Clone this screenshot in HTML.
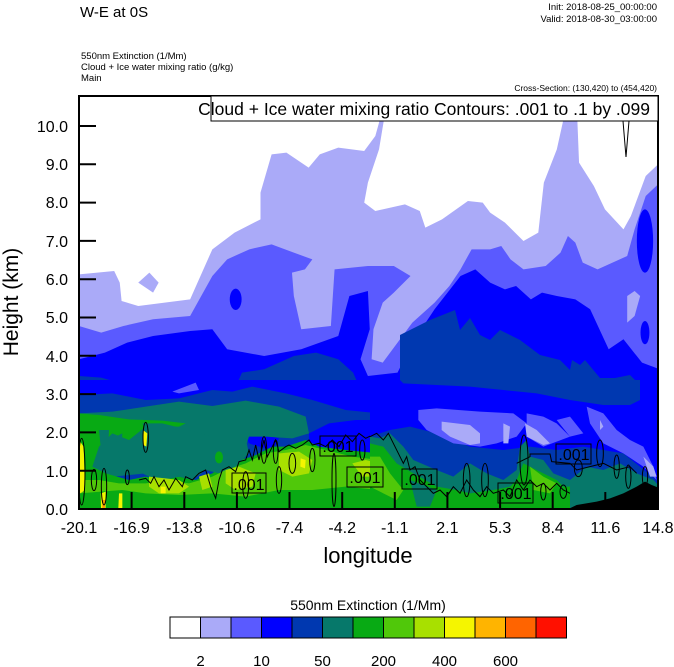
<!DOCTYPE html>
<html><head><meta charset="utf-8"><style>
html,body{margin:0;padding:0;background:#fff;width:674px;height:667px;overflow:hidden}
svg{display:block;font-family:"Liberation Sans",sans-serif}
</style></head><body>
<svg width="674" height="667" viewBox="0 0 674 667">
<text x="80" y="17" font-size="15">W-E at 0S</text>
<text x="657" y="10" font-size="9.5" text-anchor="end">Init: 2018-08-25_00:00:00</text>
<text x="657" y="22" font-size="9.5" text-anchor="end">Valid: 2018-08-30_03:00:00</text>
<text x="81" y="59" font-size="9.5">550nm Extinction   (1/Mm)</text>
<text x="81" y="70" font-size="9.5">Cloud + Ice water mixing ratio   (g/kg)</text>
<text x="81" y="81" font-size="9.5">Main</text>
<text x="657" y="91" font-size="8.5" text-anchor="end">Cross-Section: (130,420) to (454,420)</text>

<defs><clipPath id="pc"><rect x="79" y="96" width="579" height="413"/></clipPath></defs>
<g clip-path="url(#pc)">
<rect x="79" y="96" width="579" height="413" fill="#fff"/>
<g transform="translate(79,96) scale(0.3704,0.3333)">
<polygon fill="#aaaaf8" points="0,535 95,525 110,560 115,615 160,630 300,610 320,560 360,460 420,410 490,370 490,290 520,175 560,170 620,215 650,175 700,155 770,165 800,120 815,60 825,60 810,160 780,260 770,320 800,345 880,325 920,345 935,395 980,370 1050,315 1090,320 1110,350 1150,380 1200,435 1240,410 1255,260 1290,160 1310,60 1345,60 1350,200 1390,270 1420,340 1470,400 1490,360 1530,240 1568,200 1568,1400 0,1400"/>
<polygon fill="#aaaaf8" points="160,560 190,530 215,560 200,590"/>
<polygon fill="#5a5aff" points="0,690 60,710 120,690 200,670 300,660 330,600 360,540 400,490 460,460 520,445 580,470 630,490 610,520 575,530 580,600 600,700 680,690 690,520 780,510 850,510 895,540 850,590 820,620 795,700 790,790 820,800 860,740 900,680 960,620 1000,570 1030,520 1060,460 1110,460 1140,450 1165,490 1200,520 1260,510 1300,470 1320,420 1340,440 1360,500 1400,520 1480,480 1500,400 1530,300 1568,260 1568,1400 0,1400"/>
<polygon fill="#aaaaf8" points="840,660 880,630 900,660 880,700 850,720 830,700"/>
<polygon fill="#aaaaf8" points="1480,600 1500,585 1515,600 1500,660 1480,680"/>
<polygon fill="#0000ff" points="0,790 70,770 130,740 200,720 300,705 360,700 400,760 500,780 600,760 700,720 730,600 780,585 785,700 760,790 780,840 860,830 900,740 960,640 1030,540 1070,520 1110,560 1150,580 1180,570 1220,610 1250,590 1290,600 1340,610 1380,640 1430,760 1470,730 1520,800 1568,820 1568,1400 0,1400"/>
<ellipse cx="1528" cy="435" rx="22" ry="95" fill="#0000ff"/>
<ellipse cx="423" cy="610" rx="16" ry="32" fill="#0000ff"/>
<ellipse cx="1528" cy="710" rx="12" ry="35" fill="#0000ff"/>
<polygon fill="#0038b0" points="0,840 60,845 140,870 250,880 420,880 440,830 500,820 580,780 640,770 700,790 740,830 760,880 790,920 800,1400 0,1400"/>
</g>
<polygon fill="#0038b0" points="400,335 430,320 455,310 460,330 470,318 480,335 490,340 500,330 510,335 520,340 540,355 560,360 570,370 572,360 580,365 585,360 600,378 615,378 630,375 640,385 640,400 620,410 600,405 560,400 500,390 450,388 420,385 400,382"/>
<!-- bottom left detail -->
<g transform="translate(79,380) scale(0.33333)">
<rect x="0" y="0" width="900" height="400" fill="#0000ff"/>
<polygon fill="#5a5aff" points="280,35 350,8 360,30 300,40"/>
<polygon fill="#0038b0" points="0,45 100,40 200,60 300,55 400,30 460,35 520,20 620,40 700,60 800,90 900,100 900,400 0,400"/>
<polygon fill="#0000ff" points="690,160 750,130 830,120 900,120 900,240 800,235 690,200"/>
<polygon fill="#0000ff" points="500,170 560,165 600,175 580,210 540,200 510,190"/>
<polygon fill="#06786a" points="0,100 100,95 200,80 300,65 400,78 500,62 600,80 680,110 690,160 640,175 560,170 510,170 500,200 480,240 440,250 400,260 0,300"/>
<polygon fill="#08aa14" points="0,100 60,105 150,118 250,122 320,130 300,140 200,140 150,180 100,160 60,200 40,260 80,280 150,300 200,290 250,300 300,290 350,300 400,280 440,250 480,240 520,230 580,200 620,200 680,180 720,200 800,210 900,220 900,400 0,400"/>
<polygon fill="#06786a" points="190,130 250,130 330,150 400,170 500,175 510,220 470,260 420,280 380,270 340,300 300,290 250,300 210,290 170,270 150,230 200,190 210,170"/>
<polygon fill="#06786a" points="60,150 90,150 85,260 70,250"/>
<polygon fill="#06786a" points="110,170 130,160 125,250"/>
<ellipse cx="420" cy="232" rx="12" ry="18" fill="#08aa14"/>
<polygon fill="#50c80a" points="0,300 60,300 120,310 200,310 260,300 330,310 400,290 440,270 500,250 560,220 620,210 680,195 740,210 820,230 900,240 900,400 0,400"/>
<polygon fill="#08aa14" points="130,330 200,340 300,345 400,340 500,350 600,330 700,330 800,320 900,330 900,400 0,400 0,340"/>
<polygon fill="#a8e000" points="440,270 480,260 530,280 520,320 470,330 440,310"/>
<polygon fill="#a8e000" points="600,220 660,215 700,240 690,280 640,290 600,270"/>
<polygon fill="#a8e000" points="210,290 260,295 300,300 330,320 300,340 240,340 210,320"/>
<polygon fill="#a8e000" points="360,290 390,280 400,320 370,330"/>
<polygon fill="#a8e000" points="820,250 860,240 900,250 900,290 850,290"/>
<polygon fill="#f5f500" points="0,180 14,200 18,330 4,340 0,330"/>
<polygon fill="#f5f500" points="192,150 205,160 202,200 193,195"/>
<polygon fill="#f5f500" points="65,340 80,335 80,385 66,385"/>
<polygon fill="#f5f500" points="120,340 130,340 130,385 118,385"/>
<polygon fill="#f5f500" points="665,235 680,240 678,265 664,260"/>
<polygon fill="#f5f500" points="245,320 260,320 260,340 245,340"/>
<polygon fill="#ff9a00" points="70,360 78,360 78,385 70,385"/>
<g fill="none" stroke="#000" stroke-width="3">
<path d="M180,300 L200,295 L215,310 L225,290 L240,320 L255,300 L270,330 L290,295 L310,320 L320,290 L340,300 L360,280 L380,270 L395,320 L410,355 L420,300 L430,270 L450,260 L470,275 L480,245 L500,240 L510,210 L520,240 L530,195 L540,240 L555,180 L565,230 L580,200 L590,180 L600,215 L620,200 L630,195 L650,205 L670,195 L690,180 L700,195 L720,190 L740,200 L760,180 L780,200 L800,165 L820,185 L840,160 L860,175 L880,165 L900,170"/>
<ellipse cx="8" cy="275" rx="10" ry="100"/>
<ellipse cx="45" cy="300" rx="8" ry="32"/>
<ellipse cx="75" cy="320" rx="8" ry="55"/>
<ellipse cx="145" cy="292" rx="6" ry="22"/>
<ellipse cx="200" cy="172" rx="8" ry="45"/>
<ellipse cx="555" cy="210" rx="8" ry="40"/>
<ellipse cx="590" cy="215" rx="7" ry="35"/>
<ellipse cx="640" cy="250" rx="10" ry="30"/>
<ellipse cx="700" cy="240" rx="8" ry="35"/>
<ellipse cx="765" cy="300" rx="6" ry="80"/>
<ellipse cx="850" cy="210" rx="8" ry="30"/>
<ellipse cx="500" cy="315" rx="9" ry="40"/>
<ellipse cx="600" cy="300" rx="8" ry="40"/>
</g>
</g>
<!-- bottom right detail -->
<g transform="translate(370,380) scale(0.33333)">
<rect x="0" y="0" width="900" height="400" fill="#0000ff"/>
<polygon fill="#0038b0" points="90,0 810,0 810,60 780,75 700,75 600,60 500,40 400,30 300,20 200,15 100,10"/>
<polygon fill="#0038b0" points="0,170 60,150 120,140 200,160 300,200 400,210 480,200 560,210 640,200 700,210 760,220 860,300 860,400 0,400"/>
<polygon fill="#5a5aff" points="145,90 200,85 330,95 430,100 470,130 440,170 380,190 330,200 250,190 170,150 145,120"/>
<polygon fill="#5a5aff" points="470,100 520,110 560,130 600,170 520,200 470,170"/>
<polygon fill="#5a5aff" points="560,120 600,110 640,160 600,170"/>
<polygon fill="#5a5aff" points="650,80 700,100 740,150 780,180 820,200 850,260 860,300 820,260 760,220 700,190 660,130"/>
<polygon fill="#aaaaf8" points="215,125 300,135 330,160 330,190 300,195 240,170 215,150"/>
<polygon fill="#aaaaf8" points="400,130 420,140 415,190 400,190"/>
<polygon fill="#aaaaf8" points="465,130 500,150 540,190 520,195 470,170"/>
<polygon fill="#aaaaf8" points="690,120 700,140 690,150"/>
<polygon fill="#aaaaf8" points="820,230 850,260 860,290 840,290"/>
<polygon fill="#06786a" points="0,170 30,175 60,160 100,200 130,240 200,270 250,290 300,250 350,280 400,300 440,270 450,200 470,180 480,230 520,240 550,280 600,300 650,260 700,270 750,250 800,280 850,300 870,320 870,400 0,400"/>
<polygon fill="#08aa14" points="0,190 40,200 80,250 130,280 200,320 260,330 300,340 370,330 420,320 440,300 460,250 520,280 560,300 580,320 600,320 600,400 0,400"/>
<polygon fill="#50c80a" points="0,230 30,230 60,280 100,330 80,360 40,340 0,320"/>
<polygon fill="#50c80a" points="480,260 520,290 560,310 540,340 490,330"/>
<polygon fill="#06786a" points="120,300 200,330 180,380 140,380"/>
<polygon fill="#000" points="595,387 620,375 680,365 720,355 760,340 800,320 825,305 845,315 870,325 870,400 595,400"/>
<g fill="none" stroke="#000" stroke-width="3">
<path d="M0,170 L20,160 L40,180 L55,160 L70,190 L85,220 L100,250 L110,230 L120,270 L135,260 L150,300 L170,320 L190,340 L210,330 L230,350 L250,320 L270,340 L290,300 L310,330 L330,350 L350,320 L370,340 L400,330 L420,350 L440,300 L460,330 L480,300 L500,320 L520,310 L540,330 L560,310 L580,330 L600,340"/>
<path d="M440,250 L480,230 L480,222 L540,222 L545,245 L600,250 L620,270 L660,260 L700,250 L740,270 L780,260 L800,280"/>
<ellipse cx="462" cy="240" rx="12" ry="75"/>
<ellipse cx="290" cy="300" rx="10" ry="50"/>
<ellipse cx="345" cy="300" rx="10" ry="50"/>
<ellipse cx="690" cy="220" rx="10" ry="40"/>
<ellipse cx="740" cy="260" rx="8" ry="35"/>
<ellipse cx="625" cy="265" rx="12" ry="25"/>
<ellipse cx="775" cy="290" rx="8" ry="35"/>
<ellipse cx="825" cy="290" rx="8" ry="30"/>
<ellipse cx="520" cy="335" rx="8" ry="25"/>
<ellipse cx="580" cy="335" rx="10" ry="20"/>
</g>
</g>
<g fill="none" stroke="#000" stroke-width="1">
<rect x="232" y="473" width="34" height="20"/><rect x="320" y="436" width="36" height="20"/><rect x="347" y="467" width="36" height="20"/><rect x="402" y="469" width="35" height="20"/><rect x="498" y="483" width="35" height="20"/><rect x="556" y="444" width="35" height="20"/>
</g>
<g font-size="16" text-anchor="middle">
<text x="249" y="490">.001</text><text x="338" y="452">.001</text><text x="365" y="483">.001</text><text x="420" y="485">.001</text><text x="516" y="499">.001</text><text x="574" y="460">.001</text>
</g>
<path d="M623,121 L626,157 L629,121" fill="#fff" stroke="#000" stroke-width="1"/>
</g>
<rect x="79" y="96" width="579" height="413" fill="none" stroke="#000" stroke-width="2"/>
<rect x="211" y="96" width="447" height="25" fill="#fff" stroke="#000" stroke-width="1"/>
<text x="650" y="115" font-size="17.5" text-anchor="end">Cloud + Ice water mixing ratio Contours: .001 to .1 by .099</text>
<g stroke="#000" stroke-width="2">
<path d="M79,509h17M79,470.7h17M79,432.4h17M79,394.1h17M79,355.8h17M79,317.5h17M79,279.2h17M79,240.9h17M79,202.6h17M79,164.3h17M79,126h17"/>
<path d="M131.6,509v-17M184.3,509v-17M236.9,509v-17M289.5,509v-17M342.2,509v-17M394.8,509v-17M447.4,509v-17M500.1,509v-17M552.7,509v-17M605.3,509v-17"/>
</g>
<g font-size="16" text-anchor="end">
<text x="68" y="515">0.0</text><text x="68" y="477">1.0</text><text x="68" y="438">2.0</text><text x="68" y="400">3.0</text><text x="68" y="362">4.0</text><text x="68" y="323">5.0</text><text x="68" y="285">6.0</text><text x="68" y="247">7.0</text><text x="68" y="208">8.0</text><text x="68" y="170">9.0</text><text x="68" y="132">10.0</text>
</g>
<g font-size="16" text-anchor="middle">
<text x="79" y="533">-20.1</text><text x="131.6" y="533">-16.9</text><text x="184.3" y="533">-13.8</text><text x="236.9" y="533">-10.6</text><text x="289.5" y="533">-7.4</text><text x="342.2" y="533">-4.2</text><text x="394.8" y="533">-1.1</text><text x="447.4" y="533">2.1</text><text x="500.1" y="533">5.3</text><text x="552.7" y="533">8.4</text><text x="605.3" y="533">11.6</text><text x="658" y="533">14.8</text>
</g>
<text x="368" y="563" font-size="22" text-anchor="middle">longitude</text>
<text transform="translate(18,302) rotate(-90)" font-size="21" text-anchor="middle">Height (km)</text>
<text x="368" y="610" font-size="14" text-anchor="middle">550nm Extinction  (1/Mm)</text>
<g stroke="#000" stroke-width="1">
<rect x="170" y="617" width="30.5" height="21" fill="#fff"/>
<rect x="200.5" y="617" width="30.5" height="21" fill="#aaaaf8"/>
<rect x="231" y="617" width="30.5" height="21" fill="#5a5aff"/>
<rect x="261.5" y="617" width="30.5" height="21" fill="#0000ff"/>
<rect x="292" y="617" width="30.5" height="21" fill="#0038b0"/>
<rect x="322.5" y="617" width="30.5" height="21" fill="#06786a"/>
<rect x="353" y="617" width="30.5" height="21" fill="#08aa14"/>
<rect x="383.5" y="617" width="30.5" height="21" fill="#50c80a"/>
<rect x="414" y="617" width="30.5" height="21" fill="#a8e000"/>
<rect x="444.5" y="617" width="30.5" height="21" fill="#f5f500"/>
<rect x="475" y="617" width="30.5" height="21" fill="#ffb400"/>
<rect x="505.5" y="617" width="30.5" height="21" fill="#ff6400"/>
<rect x="536" y="617" width="30.5" height="21" fill="#ff1000"/>
</g>
<g font-size="15" text-anchor="middle">
<text x="200.5" y="666">2</text><text x="261.5" y="666">10</text><text x="322.5" y="666">50</text><text x="383.5" y="666">200</text><text x="444.5" y="666">400</text><text x="505.5" y="666">600</text>
</g>
</svg>
</body></html>
